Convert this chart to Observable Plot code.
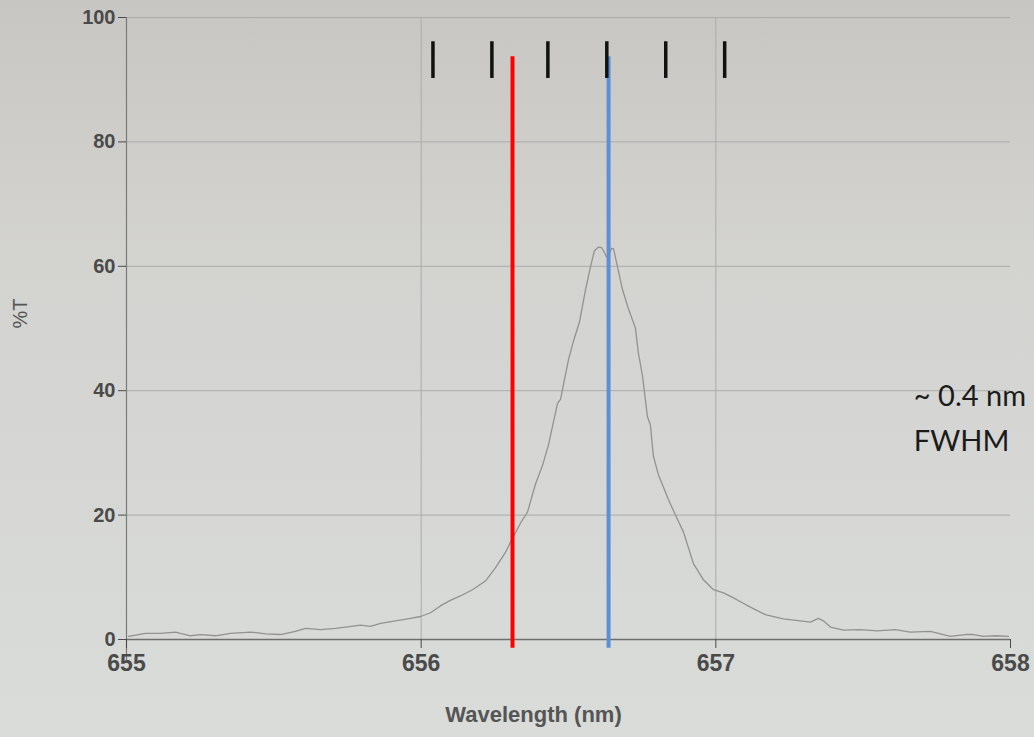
<!DOCTYPE html>
<html>
<head>
<meta charset="utf-8">
<script src="https://cdn.jsdelivr.net/npm/d3@7"></script>
<script src="https://cdn.jsdelivr.net/npm/@observablehq/plot@0.6"></script>
<style>
  html, body { margin: 0; padding: 0; overflow: hidden; }
  body {
    width: 1034px; height: 737px;
    background: linear-gradient(to bottom, #c8c6c2 0%, #d3d3d0 35%, #d9dcd9 100%);
  }
</style>
</head>
<body>
<div id="chart"></div>
<script>
// Spectrum: wavelength (nm) and %T
const wavelength = [
  655.007, 655.064, 655.115, 655.166, 655.217, 655.251, 655.302, 655.353, 655.421, 655.472,
  655.523, 655.573, 655.607, 655.658, 655.709, 655.743, 655.794, 655.828, 655.862, 655.913,
  655.964, 655.998, 656.032, 656.065, 656.099, 656.133, 656.174, 656.218, 656.252, 656.286,
  656.310, 656.337, 656.361, 656.388, 656.412, 656.432, 656.449, 656.463, 656.473, 656.483,
  656.500, 656.517, 656.537, 656.558, 656.575, 656.588, 656.602, 656.612, 656.619, 656.629,
  656.636, 656.646, 656.653, 656.666, 656.683, 656.703, 656.727, 656.737, 656.751, 656.768,
  656.778, 656.788, 656.805, 656.822, 656.839, 656.863, 656.890, 656.924, 656.958, 656.992,
  657.026, 657.060, 657.090, 657.117, 657.168, 657.229, 657.287, 657.321, 657.348, 657.365,
  657.389, 657.433, 657.491, 657.548, 657.609, 657.660, 657.728, 657.762, 657.796, 657.847,
  657.874, 657.908, 657.949, 657.993
];
const transmission = [
  0.5, 1.0, 1.0, 1.2, 0.6, 0.8, 0.6, 1.0, 1.2, 0.9,
  0.8, 1.3, 1.8, 1.6, 1.8, 2.0, 2.3, 2.1, 2.6, 3.0,
  3.4, 3.7, 4.3, 5.4, 6.3, 7.0, 8.0, 9.4, 11.5, 14.0,
  16.3, 18.7, 20.5, 25.0, 28.0, 31.3, 35.0, 38.0, 38.6, 41.0,
  45.0, 48.0, 51.0, 56.3, 60.0, 62.5, 63.1, 63.0, 62.5, 61.5,
  61.8, 62.9, 62.8, 60.0, 56.3, 53.2, 50.1, 46.1, 42.4, 35.8,
  34.5, 29.5, 26.5, 24.5, 22.5, 20.0, 17.3, 12.2, 9.6, 8.0,
  7.5, 6.7, 5.9, 5.2, 4.0, 3.3, 3.0, 2.8, 3.4, 3.0,
  2.0, 1.5, 1.6, 1.4, 1.6, 1.2, 1.3, 0.9, 0.5, 0.8,
  0.8, 0.5, 0.6, 0.5
];

// Axes
const xTicks = [655, 656, 657, 658];
const yTicks = [0, 20, 40, 60, 80, 100];
const xGrid = [656, 657];
const yGrid = [20, 40, 60, 80, 100];

// Annotations
const markerTicks = [656.04, 656.24, 656.43, 656.63, 656.83, 657.03];
const redLineX = [656.31];
const blueLineX = [656.636];
const noteText = ["~ 0.4 nm", "FWHM"];
const noteX = [657.672, 657.672];
const noteY = [39.0, 31.8];

const spectrum = wavelength.map((w, i) => ({w, t: transmission[i]}));
const notes = noteText.map((text, i) => ({text, x: noteX[i], y: noteY[i]}));

const chart = Plot.plot({
  width: 1034,
  height: 737,
  marginLeft: 126,
  marginRight: 24,
  marginTop: 17,
  marginBottom: 98,
  style: {background: "transparent", fontFamily: "'Liberation Sans', Arial, sans-serif"},
  x: {domain: [655, 658]},
  y: {domain: [0, 100]},
  marks: [
    Plot.ruleY(yGrid, {stroke: "#abacaa", strokeWidth: 1}),
    Plot.ruleX(xGrid, {stroke: "#abacaa", strokeWidth: 1}),
    Plot.ruleY([0], {stroke: "#6e6f6c", strokeWidth: 1.6}),
    Plot.ruleX([655], {y1: -3.5, y2: 100, stroke: "#7a7b78", strokeWidth: 1.2}),
    Plot.axisX({ticks: xTicks, tickSize: 9, tickPadding: 6, fontSize: 23, fontWeight: "bold",
      color: "#4a4a4a", tickFormat: d => String(d), label: null}),
    Plot.axisY({ticks: yTicks, tickSize: 8, tickPadding: 3, fontSize: 20, fontWeight: "bold",
      color: "#4a4a4a", label: null}),
    Plot.line(spectrum, {x: "w", y: "t", stroke: "#929290", strokeWidth: 1.3}),
    Plot.ruleX(redLineX, {y1: -1.4, y2: 93.7, stroke: "#ff0000", strokeWidth: 4}),
    Plot.ruleX(blueLineX, {y1: -1.4, y2: 93.7, stroke: "#5b8fd6", strokeWidth: 4}),
    Plot.ruleX(markerTicks, {y1: 90.2, y2: 96.1, stroke: "#111111", strokeWidth: 3.5}),
    Plot.text(notes, {x: "x", y: "y", text: "text", textAnchor: "start", fontSize: 29,
      fontFamily: "Lato, 'Open Sans', sans-serif", fill: "#1b1b1b"}),
    Plot.text(["Wavelength (nm)"], {frameAnchor: "bottom", dy: 82, dx: -35, fontSize: 22,
      fontWeight: "bold", fill: "#555555"}),
    Plot.text(["%T"], {frameAnchor: "left", dx: -106, rotate: -90, fontSize: 20, fill: "#555555"})
  ]
});
document.getElementById("chart").append(chart);
</script>
</body>
</html>
